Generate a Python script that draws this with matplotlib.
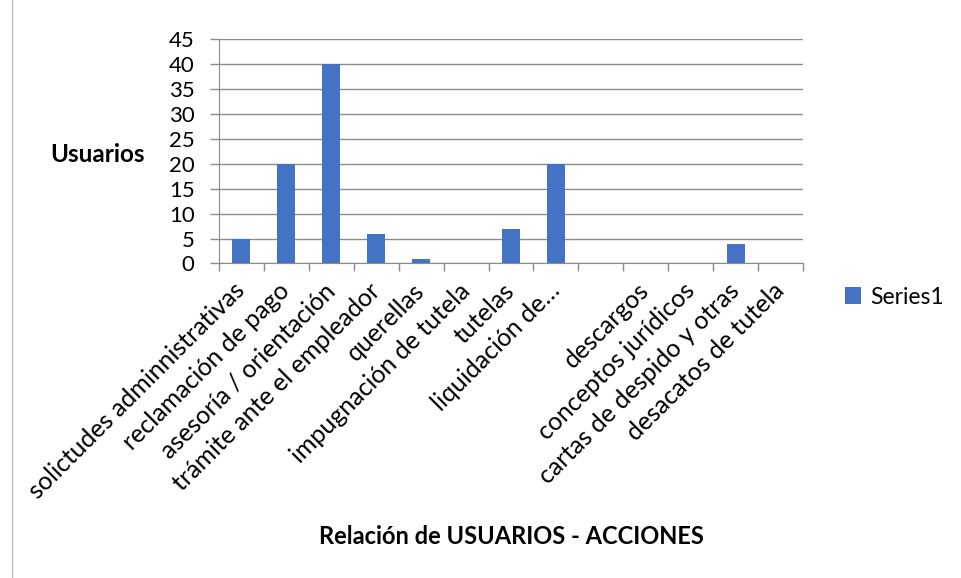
import numpy as np
import matplotlib.pyplot as plt
from matplotlib.patches import Rectangle

# datos (13 categorías, la 9ª sin etiqueta)
categorias = ['solictudes adminnistrativas', 'reclamación de pago', 'asesoría / orientación',
              'trámite ante el empleador', 'querellas', 'impugnación de tutela', 'tutelas',
              'liquidación de…', '', 'descargos', 'conceptos jurídicos',
              'cartas de despido y otras', 'desacatos de tutela']
usuarios = [5, 20, 40, 6, 1, 0, 7, 20, 0, 0, 0, 4, 0]

azul = '#4472C4'
gris = '#8C8C8C'
plt.rcParams['font.family'] = ['Lato', 'DejaVu Sans']

fig = plt.figure(figsize=(9.61, 5.78), dpi=100)
ax = fig.add_axes([219 / 961, 1 - 263.5 / 578, 584 / 961, 224.5 / 578])

x = np.arange(len(categorias))
ax.bar(x, usuarios, width=0.4, color=azul, label='Series1', zorder=3)

ax.set_xlim(-0.5, len(categorias) - 0.5)
ax.set_ylim(0, 45)
ax.set_yticks(range(0, 46, 5))
ax.tick_params(axis='y', length=6.5, color=gris, width=1, labelsize=16, pad=11)
ax.grid(axis='y', color=gris, linewidth=1, zorder=0)

# marcas entre categorías
ax.set_xticks(np.arange(-0.5, len(categorias), 1.0))
ax.set_xticklabels([])
ax.tick_params(axis='x', length=6, color=gris, width=1)
for i, c in enumerate(categorias):
    ax.annotate(c, xy=(i, 0), xycoords=('data', 'axes fraction'),
                xytext=(-6, -11), textcoords='offset points',
                rotation=45, ha='right', va='top', rotation_mode='anchor',
                fontsize=18, color='black')

for s in ['top', 'right']:
    ax.spines[s].set_visible(False)
ax.spines['left'].set_color(gris)
ax.spines['bottom'].set_color(gris)

fig.text(97 / 961, 1 - 155 / 578, 'Usuarios', fontsize=17.5, fontweight='bold',
         ha='center', va='center')
fig.text(511 / 961, 1 - 537 / 578, 'Relación de USUARIOS - ACCIONES', fontsize=17,
         fontweight='bold', ha='center', va='center')

ax.legend(loc='center left', bbox_to_anchor=(824 / 961, 1 - 297 / 578),
          bbox_transform=fig.transFigure, frameon=False, fontsize=16.5,
          handlelength=0.7, handleheight=0.7, handletextpad=0.4)

# borde exterior del gráfico
fig.patches.append(Rectangle((12 / 961, -0.01), 1.0, 1.02, transform=fig.transFigure,
                             fill=False, edgecolor='#BFBFBF', linewidth=1))

fig.savefig('out.png', dpi=100)
